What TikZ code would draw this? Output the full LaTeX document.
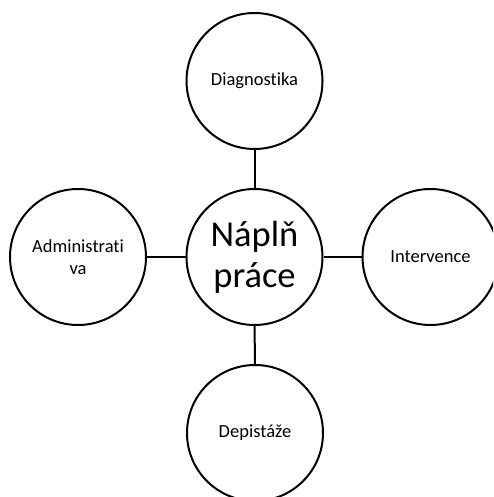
\documentclass[tikz,border=0pt]{standalone}
\usepackage{fontspec}
\setmainfont{Carlito}[Ligatures=NoCommon]
\begin{document}
\begin{tikzpicture}[x=1pt,y=-1pt,
  bubble/.style={circle,draw=black,line width=2pt,minimum size=136pt,inner sep=0pt,align=center,font=\fontsize{18.5}{22}\selectfont},
  hub/.style={bubble,font=\fontsize{36.5}{41}\selectfont},
  link/.style={draw=black,line width=2pt}]
\useasboundingbox (0,0) rectangle (493,497);
\clip (0,0) rectangle (493,497);
\node[hub] (c) at (254.5,257) {Náplň\\práce};
\node[bubble] (t) at (254.5,81) {Diagnostika};
\node[bubble] (b) at (255,433) {Depistáže};
\node[bubble] (l) at (78,257) {Administrati\\va};
\node[bubble] (r) at (430.5,257) {Intervence};
\draw[link] (t) -- (c);
\draw[link] (b) -- (c);
\draw[link] (l) -- (c);
\draw[link] (r) -- (c);
\end{tikzpicture}
\end{document}
